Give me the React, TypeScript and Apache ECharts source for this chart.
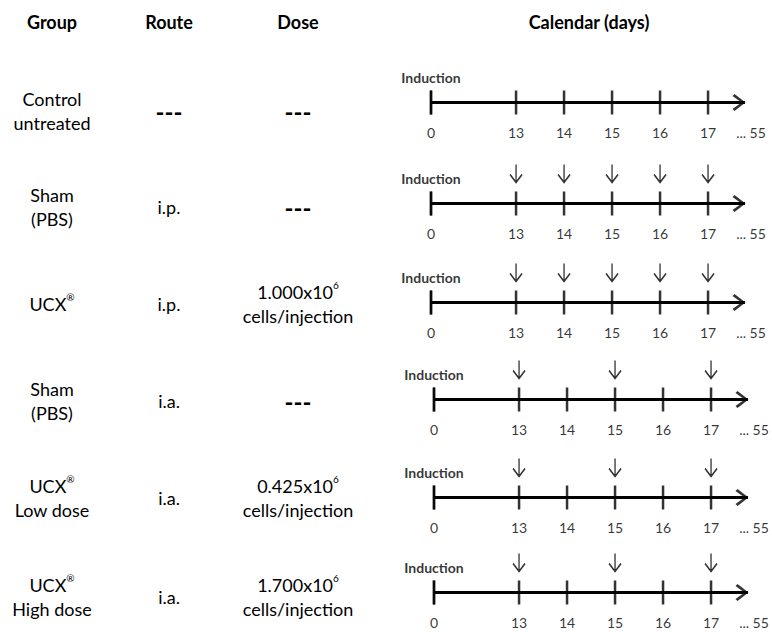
import React, { useEffect, useRef } from 'react';
import * as echarts from 'echarts';

// ---- data ----
const headers = ['Group', 'Route', 'Dose', 'Calendar (days)'];
const groups = ['Control\nuntreated', 'Sham\n(PBS)', 'UCX®', 'Sham\n(PBS)', 'UCX®\nLow dose', 'UCX®\nHigh dose'];
const routes = ['---', 'i.p.', 'i.p.', 'i.a.', 'i.a.', 'i.a.'];
const doses = ['---', '---', '1.000x10⁶\ncells/injection', '---', '0.425x10⁶\ncells/injection', '1.700x10⁶\ncells/injection'];
const timelineDays = [0, 13, 14, 15, 16, 17];
const injectionDays = [[], [13, 14, 15, 16, 17], [13, 14, 15, 16, 17], [13, 15, 17], [13, 15, 17], [13, 15, 17]];
const inductionDay = 0;
const inductionLabel = 'Induction';
const endDayLabel = '... 55';

// ---- layout / style ----
const FONT = 'Lato, "Open Sans", sans-serif';
const colX = [52, 169, 298, 589];
const headerY = 22;
const rowTextY = [111, 207, 304, 401, 498, 597];
const axisY = [102, 203, 302, 399, 497, 592];
const axisLeft = [431, 431, 431, 434, 434, 434];
const axisWidth = 314;
const AXIS_MAX = 17.77;
const LINE_W = 3;
const CHEVRON_RIGHT = 'path://M2 0 L13 8.5 L2 17 L0 15 L9 8.5 L0 2 Z';
const DOWN_ARROW = 'path://M6 0 L6 18 M0.5 10 L6 18 L11.5 10';

const toRich = (s: string) => s.replace(/®/g, '{sup|®}').replace(/⁶/g, '{sup|6}');

function cellText(text: string, x: number, y: number, bold = false) {
  const dash = text === '---';
  return {
    type: 'text',
    x,
    y,
    silent: true,
    style: {
      text: toRich(text),
      fontFamily: FONT,
      fontSize: dash ? 24 : 18,
      fontWeight: bold || dash ? 'bold' : 'normal',
      lineHeight: 24,
      fill: '#000',
      align: 'center',
      verticalAlign: 'middle',
      textAlign: 'center',
      textVerticalAlign: 'middle',
      rich: {
        sup: { fontFamily: FONT, fontSize: 10, lineHeight: 18, verticalAlign: 'top', fill: '#000', color: '#000' },
      },
    },
  };
}

const dayLabelStyle = { fontFamily: FONT, fontSize: 14, lineHeight: 14, color: '#000' };

export default function App() {
  const ref = useRef<HTMLDivElement>(null);
  useEffect(() => {
    if (!ref.current) return;
    const chart = echarts.init(ref.current, null, { renderer: 'svg' });

    const grids: any[] = [];
    const xAxes: any[] = [];
    const yAxes: any[] = [];
    const series: any[] = [];

    axisY.forEach((ay, i) => {
      grids.push({ left: axisLeft[i], width: axisWidth, top: ay - 39.5, height: 80, outerBoundsMode: 'none', containLabel: false });
      xAxes.push({
        gridIndex: i,
        type: 'value',
        min: 0,
        max: AXIS_MAX,
        breaks: [{ start: 0.5, end: 12.5, gap: '11.8%' }],
        breakArea: { show: false },
        axisLine: { show: false },
        axisTick: { show: false },
        axisLabel: { show: false },
        splitLine: { show: false },
      });
      yAxes.push({ gridIndex: i, type: 'value', min: -1, max: 1, show: false });

      // continuous timeline across the axis break
      series.push({
        type: 'line',
        xAxisIndex: i,
        yAxisIndex: i,
        silent: true,
        showSymbol: false,
        lineStyle: { color: '#000', width: LINE_W, cap: 'butt' },
        data: [[0, 0], [AXIS_MAX, 0]],
        z: 2,
      });
      // arrow head at the end of the timeline, with the "... 55" end label
      series.push({
        type: 'scatter',
        xAxisIndex: i,
        yAxisIndex: i,
        silent: true,
        clip: false,
        symbol: CHEVRON_RIGHT,
        symbolSize: [13, 17],
        symbolOffset: [-6, 0],
        itemStyle: { color: '#000' },
        data: [[AXIS_MAX, 0]],
        label: {
          show: true,
          position: 'bottom',
          distance: 14.5,
          offset: [12, 0],
          formatter: endDayLabel,
          ...dayLabelStyle,
        },
        z: 3,
      });
      series.push({
        type: 'scatter',
        xAxisIndex: i,
        yAxisIndex: i,
        silent: true,
        clip: false,
        symbol: 'rect',
        symbolSize: [2.5, 24],
        itemStyle: { color: '#000' },
        data: timelineDays.map((d) => [d, 0]),
        label: {
          show: true,
          position: 'bottom',
          distance: 11,
          formatter: (p: any) => String(p.value[0]),
          ...dayLabelStyle,
        },
        z: 3,
      });
      series.push({
        type: 'scatter',
        xAxisIndex: i,
        yAxisIndex: i,
        silent: true,
        clip: false,
        symbol: 'rect',
        symbolSize: [2.5, 24],
        itemStyle: { color: '#000' },
        data: [[inductionDay, 0]],
        label: {
          show: true,
          position: 'top',
          distance: 6,
          formatter: inductionLabel,
          fontFamily: FONT,
          fontSize: 14,
          fontWeight: 'bold',
          color: '#000',
        },
        z: 3,
      });
      if (injectionDays[i].length) {
        series.push({
          type: 'scatter',
          xAxisIndex: i,
          yAxisIndex: i,
          silent: true,
          clip: false,
          symbol: DOWN_ARROW,
          symbolSize: [12, 18],
          symbolOffset: [0, -30],
          itemStyle: { color: 'transparent', borderColor: '#000', borderWidth: 1.6 },
          data: injectionDays[i].map((d) => [d, 0]),
          z: 3,
        });
      }
    });

    const graphics: any[] = [];
    headers.forEach((h, c) => graphics.push(cellText(h, colX[c], headerY, true)));
    groups.forEach((g, i) => {
      graphics.push(cellText(g, colX[0], rowTextY[i]));
      graphics.push(cellText(routes[i], colX[1], rowTextY[i]));
      graphics.push(cellText(doses[i], colX[2], rowTextY[i]));
    });

    chart.setOption({
      animation: false,
      backgroundColor: '#fff',
      grid: grids,
      xAxis: xAxes,
      yAxis: yAxes,
      series,
      graphic: graphics,
    });
    return () => chart.dispose();
  }, []);
  return <div ref={ref} style={{ position: 'fixed', left: 0, top: 0, width: 772, height: 632 }} />;
}
